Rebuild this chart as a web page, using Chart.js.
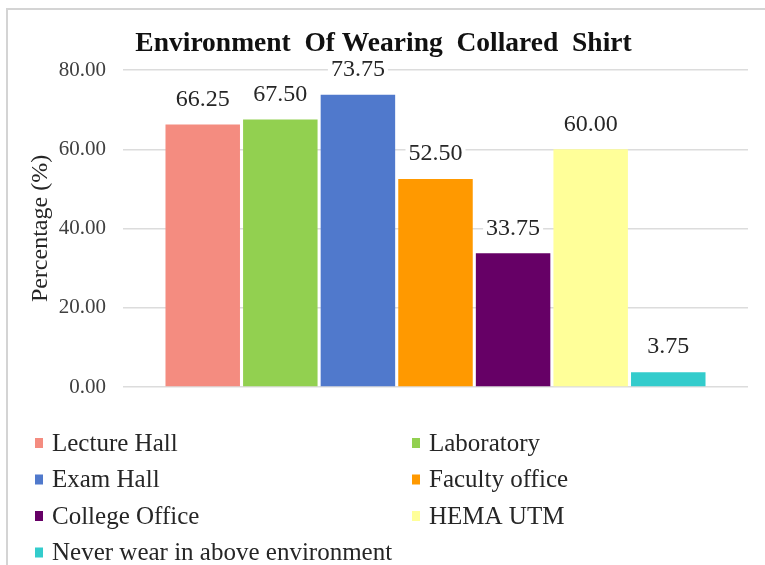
<!DOCTYPE html>
<html>
<head>
<meta charset="utf-8">
<script src="https://cdn.jsdelivr.net/npm/chart.js@4/dist/chart.umd.min.js"></script>
<style>
html,body{margin:0;padding:0;background:#fff;}
#wrap{position:relative;width:765px;height:565px;}
</style>
</head>
<body>
<div id="wrap"><canvas id="c" width="765" height="565"></canvas></div>
<script>
const categories = ['Environment'];
const seriesNames = ['Lecture Hall','Laboratory','Exam Hall','Faculty office','College Office','HEMA UTM','Never wear in above environment'];
const seriesValues = [66.25, 67.50, 73.75, 52.50, 33.75, 60.00, 3.75];
const seriesColors = ['#F48C80','#92D050','#5079CC','#FF9900','#660066','#FFFF99','#33CCCC'];
const chartTitle = 'Environment  Of Wearing  Collared  Shirt';
const yAxisTitle = 'Percentage (%)';

const SERIF = '"Liberation Serif", "Times New Roman", serif';

const datasets = seriesNames.map((n, i) => ({
  label: n,
  data: [seriesValues[i]],
  backgroundColor: seriesColors[i],
  borderWidth: 0,
  categoryPercentage: 0.869,
  barPercentage: 0.96
}));

const framePlugin = {
  id: 'frame',
  beforeDraw(chart) {
    const ctx = chart.ctx;
    ctx.save();
    ctx.fillStyle = '#fff';
    ctx.fillRect(0, 0, chart.width, chart.height);
    ctx.strokeStyle = '#d4d4d4';
    ctx.lineWidth = 2;
    ctx.strokeRect(7, 9, chart.width + 10, chart.height + 10);
    // title
    ctx.fillStyle = '#111';
    ctx.font = 'bold 27.5px ' + SERIF;
    ctx.textAlign = 'center';
    ctx.textBaseline = 'middle';
    ctx.fillText(chartTitle, chart.width / 2 + 1, 44);
    ctx.restore();
  }
};

const labelPlugin = {
  id: 'valueLabels',
  afterDatasetsDraw(chart) {
    const ctx = chart.ctx;
    ctx.save();
    ctx.font = '24px ' + SERIF;
    ctx.textAlign = 'center';
    ctx.textBaseline = 'middle';
    chart.data.datasets.forEach((ds, i) => {
      const meta = chart.getDatasetMeta(i);
      meta.data.forEach((bar, j) => {
        const txt = Number(ds.data[j]).toFixed(2);
        const w = ctx.measureText(txt).width;
        const y = bar.y - 26;
        ctx.fillStyle = '#fff';
        ctx.fillRect(bar.x - w / 2 - 3, y - 12, w + 6, 24);
        ctx.fillStyle = '#262626';
        ctx.fillText(txt, bar.x, y + 1);
      });
    });
    ctx.restore();
  }
};

const legendPlugin = {
  id: 'gridLegend',
  afterDraw(chart) {
    const ctx = chart.ctx;
    ctx.save();
    ctx.font = '25px ' + SERIF;
    ctx.textBaseline = 'middle';
    const cols = [35, 412];
    const rowY0 = 443, rowH = 36.5;
    chart.data.datasets.forEach((ds, i) => {
      const col = i % 2, row = Math.floor(i / 2);
      const x = cols[col], y = rowY0 + row * rowH;
      ctx.fillStyle = ds.backgroundColor;
      ctx.fillRect(x, y - 5, 8, 10);
      ctx.fillStyle = '#262626';
      ctx.textAlign = 'left';
      ctx.fillText(ds.label, x + 17, y + 1);
    });
    ctx.restore();
  }
};

new Chart(document.getElementById('c'), {
  type: 'bar',
  data: { labels: categories, datasets },
  options: {
    responsive: false,
    animation: false,
    layout: { padding: { left: 0, right: 17, top: 70, bottom: 178 } },
    plugins: {
      legend: { display: false },
      tooltip: { enabled: false },
      title: { display: false }
    },
    scales: {
      x: { display: false },
      y: {
        min: 0, max: 80,
        afterFit(scale) { scale.width = 123; },
        ticks: {
          stepSize: 20,
          color: '#404040',
          font: { family: SERIF, size: 21 },
          padding: 17,
          callback: v => Number(v).toFixed(2)
        },
        grid: { color: '#dcdcdc', lineWidth: 1.5, drawTicks: false },
        border: { display: false },
        title: {
          display: true,
          text: yAxisTitle,
          color: '#262626',
          font: { family: SERIF, size: 24 },
          padding: { top: 26, bottom: 0 }
        }
      }
    }
  },
  plugins: [framePlugin, labelPlugin, legendPlugin]
});
</script>
</body>
</html>
